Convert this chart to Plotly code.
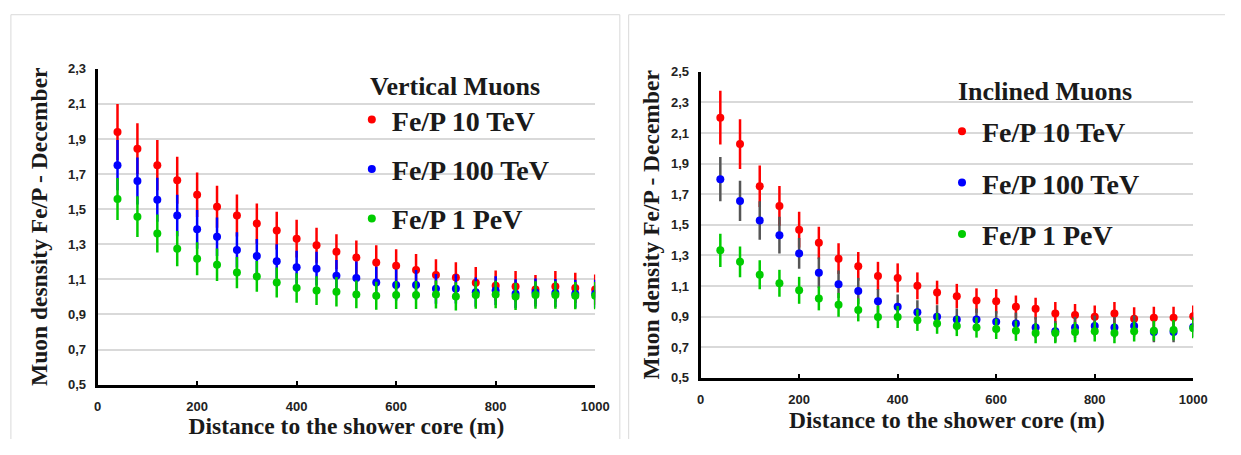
import plotly.graph_objects as go

# Figure kept slightly smaller than the 1241x455 window so the page never overflows.
W, H = 1225, 439

distance = [40, 80, 120, 160, 200, 240, 280, 320, 360, 400, 440, 480, 520,
            560, 600, 640, 680, 720, 760, 800, 840, 880, 920, 960, 1000]

# Vertical muons
vert_10tev = [1.94, 1.845, 1.751, 1.665, 1.582, 1.514, 1.464, 1.418, 1.378, 1.332, 1.294, 1.257, 1.224,
              1.196, 1.178, 1.154, 1.125, 1.110, 1.080, 1.064, 1.060, 1.042, 1.060, 1.051, 1.042]
vert_10tev_err = [0.16, 0.145, 0.143, 0.134, 0.127, 0.12, 0.12, 0.115, 0.108, 0.108, 0.10, 0.10, 0.097,
                  0.098, 0.093, 0.09, 0.09, 0.088, 0.09, 0.086, 0.087, 0.083, 0.087, 0.086, 0.086]
vert_100tev = [1.751, 1.661, 1.554, 1.464, 1.385, 1.343, 1.268, 1.233, 1.203, 1.169, 1.161, 1.121, 1.108,
               1.082, 1.068, 1.068, 1.046, 1.046, 1.027, 1.036, 1.018, 1.025, 1.022, 1.018, 1.018]
vert_100tev_err = [0.143, 0.134, 0.125, 0.118, 0.11, 0.11, 0.10, 0.097, 0.097, 0.094, 0.096, 0.09, 0.094,
                   0.09, 0.088, 0.085, 0.085, 0.083, 0.083, 0.082, 0.082, 0.08, 0.08, 0.08, 0.08]
vert_1pev = [1.558, 1.457, 1.361, 1.275, 1.218, 1.183, 1.139, 1.117, 1.082, 1.051, 1.036, 1.029, 1.014,
             1.007, 1.011, 1.011, 1.014, 1.003, 1.011, 1.014, 1.003, 1.011, 1.011, 1.007, 1.007]
vert_1pev_err = [0.12, 0.116, 0.108, 0.10, 0.094, 0.093, 0.089, 0.088, 0.086, 0.084, 0.082, 0.084, 0.079,
                 0.08, 0.08, 0.08, 0.08, 0.08, 0.078, 0.078, 0.078, 0.078, 0.078, 0.078, 0.078]

# Inclined muons
incl_10tev = [2.200, 2.027, 1.752, 1.623, 1.468, 1.382, 1.279, 1.229, 1.166, 1.153, 1.101, 1.057, 1.034,
              1.005, 1.000, 0.965, 0.952, 0.921, 0.910, 0.900, 0.921, 0.887, 0.892, 0.892, 0.902]
incl_10tev_err = [0.175, 0.163, 0.136, 0.13, 0.117, 0.106, 0.1, 0.094, 0.092, 0.095, 0.088, 0.078, 0.08,
                  0.08, 0.08, 0.073, 0.071, 0.075, 0.072, 0.073, 0.075, 0.074, 0.073, 0.073, 0.071]
incl_100tev = [1.798, 1.656, 1.528, 1.432, 1.313, 1.187, 1.112, 1.068, 1.000, 0.965, 0.929, 0.900, 0.881,
               0.881, 0.866, 0.856, 0.829, 0.804, 0.829, 0.839, 0.829, 0.839, 0.799, 0.799, 0.833]
incl_100tev_err = [0.145, 0.132, 0.125, 0.12, 0.1, 0.1, 0.09, 0.085, 0.08, 0.08, 0.078, 0.075, 0.072,
                   0.072, 0.07, 0.07, 0.068, 0.068, 0.068, 0.068, 0.068, 0.068, 0.066, 0.066, 0.066]
incl_1pev = [1.333, 1.258, 1.174, 1.118, 1.072, 1.019, 0.977, 0.944, 0.898, 0.898, 0.877, 0.856, 0.839,
             0.829, 0.820, 0.808, 0.793, 0.793, 0.799, 0.804, 0.793, 0.804, 0.808, 0.812, 0.825]
incl_1pev_err = [0.108, 0.1, 0.095, 0.088, 0.088, 0.078, 0.078, 0.075, 0.073, 0.072, 0.07, 0.068, 0.066,
                 0.066, 0.066, 0.066, 0.066, 0.066, 0.066, 0.066, 0.066, 0.066, 0.066, 0.066, 0.066]

series_names = ["Fe/P 10 TeV", "Fe/P 100 TeV", "Fe/P 1 PeV"]
colors = ["#ff0000", "#0000ff", "#00cc00"]
left_bar_colors = ["#ff0000", "#0000ff", "#00cc00"]
right_bar_colors = ["#ff0000", "#555555", "#00cc00"]
left_title = "Vertical Muons"
right_title = "Inclined Muons"
left_ytitle = "Muon desnsity Fe/P - December"
right_ytitle = "Muon density Fe/P - December"
xtitle = "Distance to the shower core (m)"

SERIF = "Liberation Serif"
SANS = "Liberation Sans"


def px(x):
    return x / W


def py(y):
    return 1 - y / H


fig = go.Figure()

left_sets = [(vert_10tev, vert_10tev_err), (vert_100tev, vert_100tev_err), (vert_1pev, vert_1pev_err)]
right_sets = [(incl_10tev, incl_10tev_err), (incl_100tev, incl_100tev_err), (incl_1pev, incl_1pev_err)]

for i, (vals, errs) in enumerate(left_sets):
    fig.add_trace(go.Scatter(
        x=distance, y=vals, mode="markers", name=series_names[i],
        marker=dict(color=colors[i], size=8),
        error_y=dict(type="data", array=errs, color=left_bar_colors[i], thickness=2.5, width=0),
        xaxis="x", yaxis="y", legend="legend", legendgroup="L%d" % i,
    ))
for i, (vals, errs) in enumerate(right_sets):
    fig.add_trace(go.Scatter(
        x=distance, y=vals, mode="markers", name=series_names[i],
        marker=dict(color=colors[i], size=8),
        error_y=dict(type="data", array=errs, color=right_bar_colors[i], thickness=2.5, width=0),
        xaxis="x2", yaxis="y2", legend="legend2", legendgroup="R%d" % i,
    ))

tickfont = dict(family=SANS, size=13, color="#222222", weight="bold")
titlefont = dict(family=SERIF, size=23.5, color="#1a1a1a", weight="bold")
legfont = dict(family=SERIF, size=28, color="#1a1a1a", weight="bold")
legtitlefont = dict(family=SERIF, size=26, color="#1a1a1a", weight="bold")

xcommon = dict(range=[0, 1000], dtick=200, tick0=0, showline=True, linecolor="black", linewidth=3,
               ticks="inside", ticklen=4, tickwidth=2, tickcolor="black", showgrid=False,
               zeroline=False, tickfont=tickfont, tickformat="d", ticklabelstandoff=8)
ycommon = dict(dtick=0.2, tick0=0.5, showline=True, linecolor="black", linewidth=3, ticks="",
               showgrid=True, gridcolor="#d9d9d9", gridwidth=1.5, zeroline=False,
               tickfont=tickfont, tickformat=".1f", ticklabelstandoff=6)

legcommon = dict(font=legfont, bgcolor="rgba(0,0,0,0)", xanchor="left", yanchor="top", itemwidth=30)

fig.update_layout(
    width=W, height=H, margin=dict(l=0, r=0, t=0, b=0),
    paper_bgcolor="white", plot_bgcolor="white",
    font=dict(family=SERIF),
    separators=", ",
    xaxis=dict(domain=[px(95), px(600)], anchor="y",
               title=dict(text=xtitle, font=titlefont, standoff=1), **xcommon),
    yaxis=dict(domain=[py(391), py(64)], anchor="x", range=[0.5, 2.3],
               title=dict(text=left_ytitle, font=titlefont, standoff=14), **ycommon),
    xaxis2=dict(domain=[px(707), px(1207)], anchor="y2",
                title=dict(text=xtitle, font=titlefont, standoff=5), **xcommon),
    yaxis2=dict(domain=[py(384), py(67)], anchor="x2", range=[0.5, 2.5],
                title=dict(text=right_ytitle, font=titlefont, standoff=5), **ycommon),
    legend=dict(x=px(353), y=py(91), tracegroupgap=10, **legcommon),
    legend2=dict(x=px(952), y=py(103), tracegroupgap=12, **legcommon),
    annotations=[
        dict(text=left_title, xref="paper", yref="paper", x=px(369), y=py(82), xanchor="left",
             yanchor="middle", showarrow=False, font=legtitlefont),
        dict(text=right_title, xref="paper", yref="paper", x=px(966), y=py(87), xanchor="left",
             yanchor="middle", showarrow=False, font=legtitlefont),
    ],
    shapes=[
        dict(type="rect", xref="paper", yref="paper", x0=px(7), x1=px(625), y0=py(470), y1=py(8),
             line=dict(color="#d9d9d9", width=1), layer="below"),
        dict(type="rect", xref="paper", yref="paper", x0=px(634), x1=px(1260), y0=py(470), y1=py(8),
             line=dict(color="#d9d9d9", width=1), layer="below"),
    ],
)

fig.write_html("out.html")
